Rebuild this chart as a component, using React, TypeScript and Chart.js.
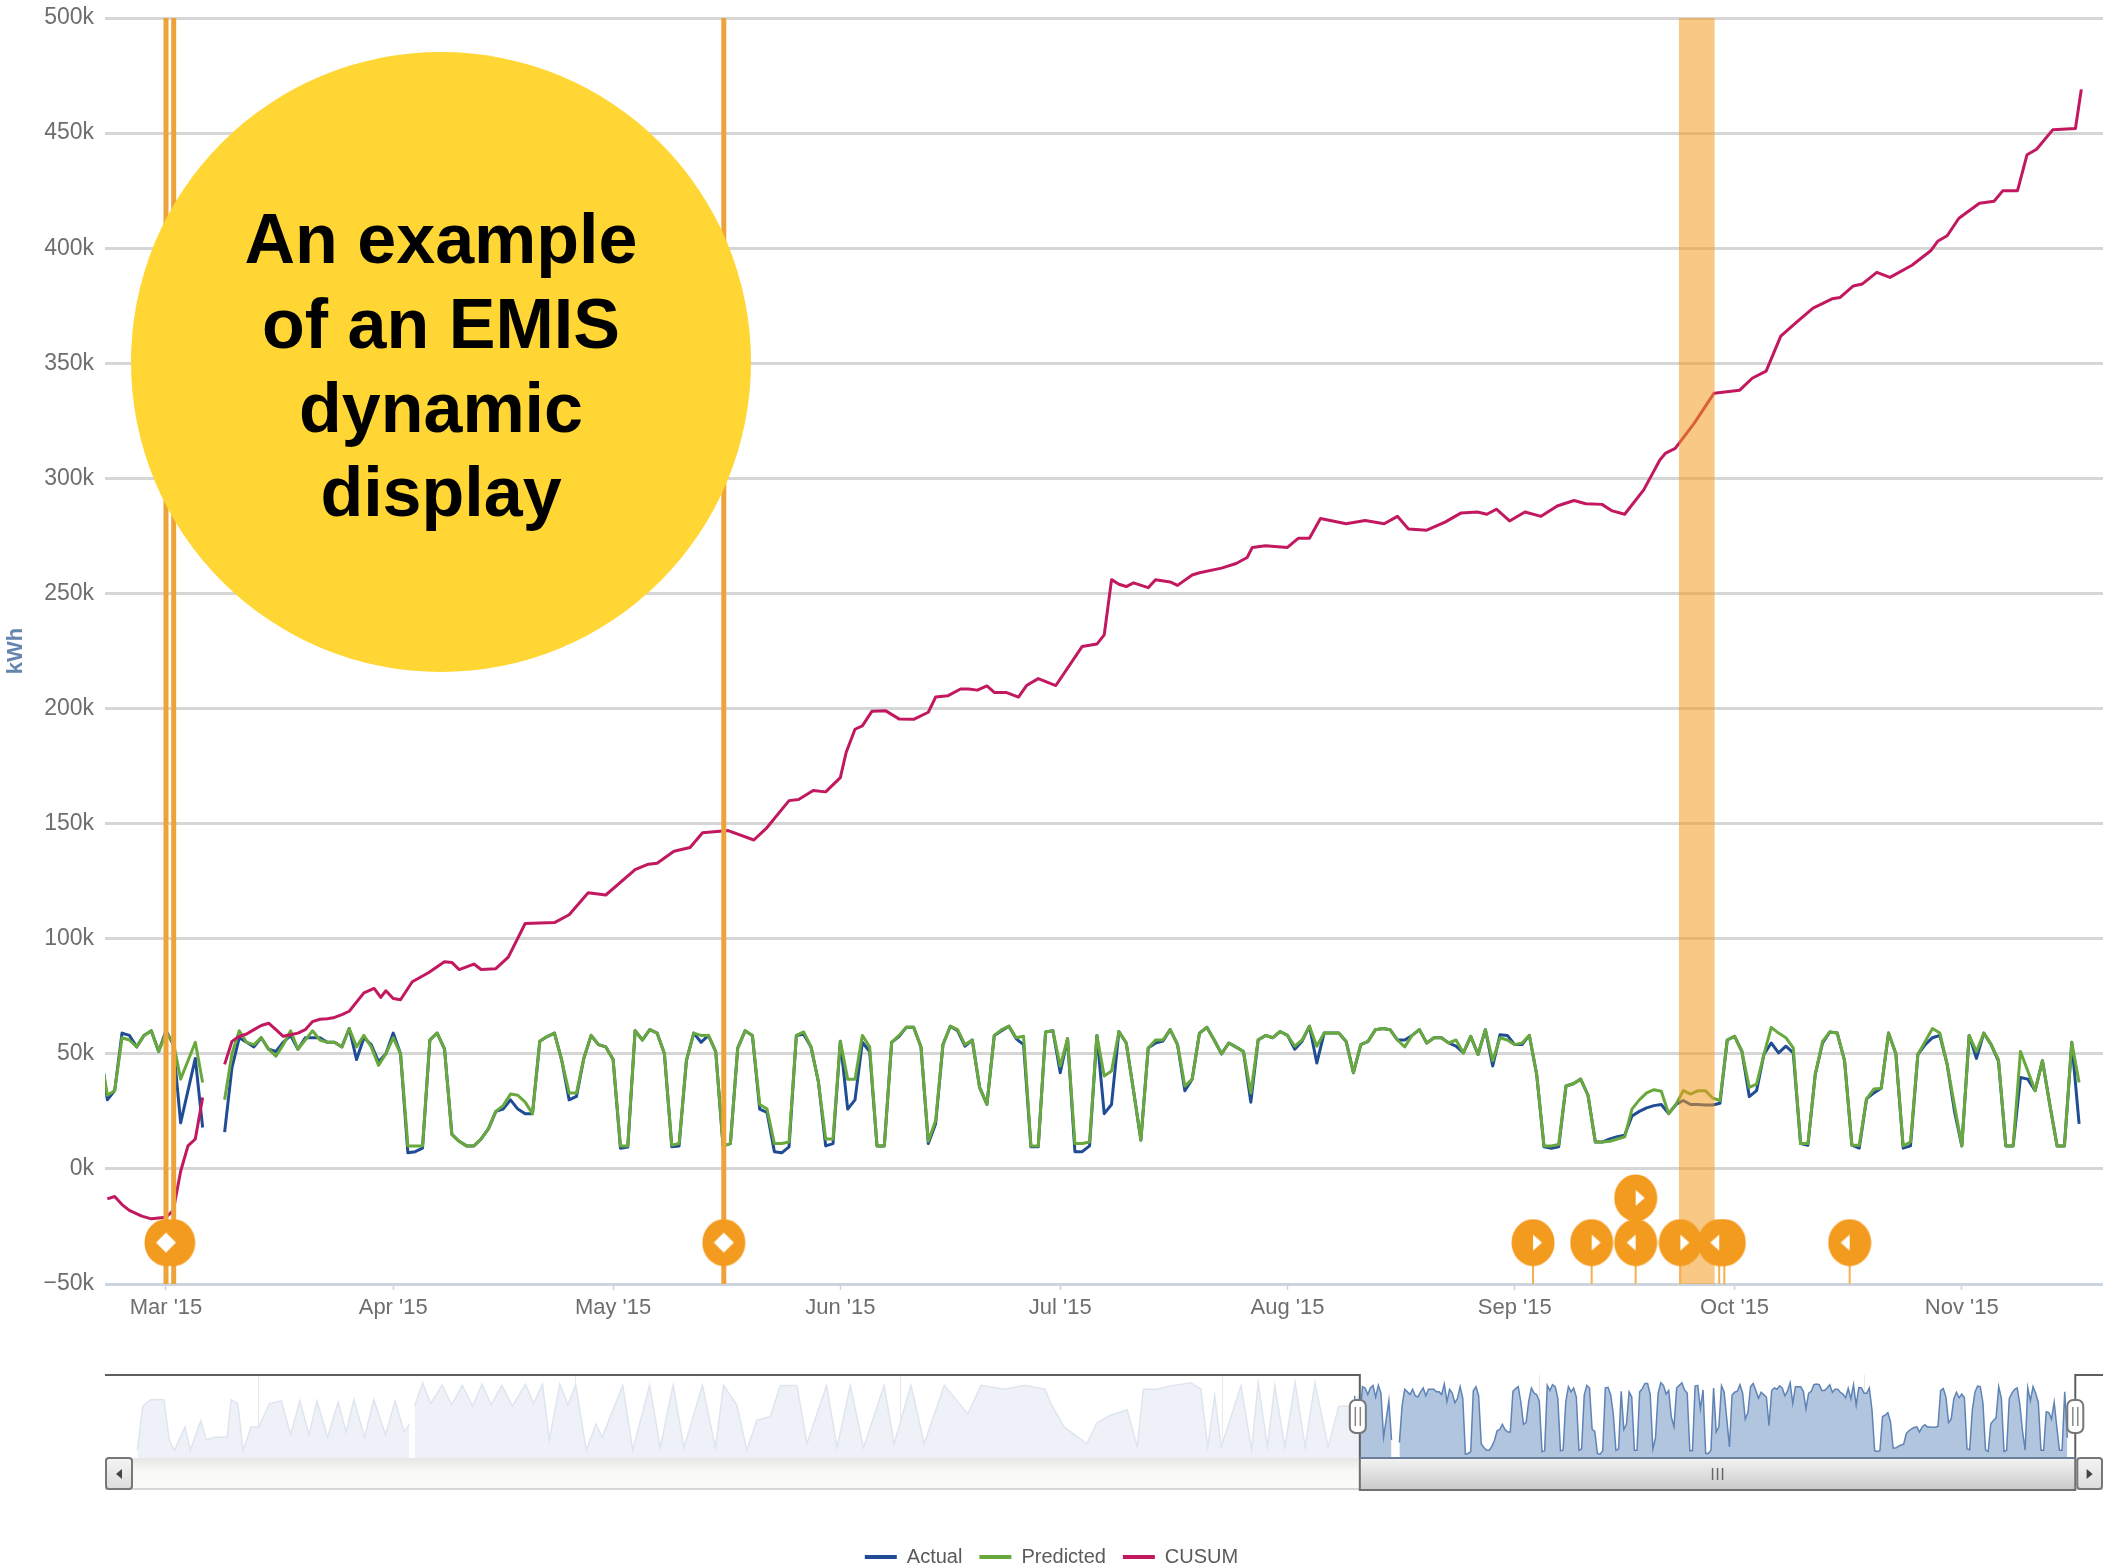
import React, { useEffect, useRef } from "react";
import { Chart, registerables } from "chart.js";

Chart.register(...registerables);

const FONT = "'Liberation Sans', Arial, sans-serif";

// ---- main chart: day numbers count from 1 March 2015, values are in thousands of kWh
const firstDay = -9;
const predictedValues: (number | null)[] = [
  52, 32, 34, 57, 56, 53, 58, 60, 51, 59,
  55, 39, 47, 55, 37.5, null, null, 30, 50, 60,
  55, 54, 57, 52, 49, 54, 60, 52, 56, 60,
  56, 55, 55, 53, 61, 53, 58, 53, 45, 50,
  57, 50, 10, 10, 10, 56, 59, 52, 15, 12,
  10, 10, 13, 17.5, 25, 27.5, 32.5, 32, 29, 24,
  55.5, 57.5, 59, 47, 33, 33, 48, 58, 54, 53,
  47.5, 10, 10, 60, 56, 60.5, 59, 50, 10.3, 11,
  47, 59, 58, 58, 51, 10, 11, 52.5, 60, 58,
  28, 26, 11, 11, 11.7, 58, 59.5, 53, 38, 13,
  13, 55.5, 39, 39, 58, 53, 10, 10, 55, 58,
  61.5, 61.5, 53, 12, 21, 54, 62, 60.5, 54, 56,
  35.4, 28, 58, 60.5, 62, 57, 57.6, 10, 10, 59.5,
  60, 44.7, 56.6, 11, 11, 11.7, 58, 40.4, 42.5, 59.7,
  54.7, 34, 12.5, 52.5, 56, 56, 60.5, 54, 36, 39,
  59, 61.5, 56, 50, 54.7, 52.9, 51, 33, 56, 58,
  57, 59.7, 58, 53.3, 56, 62, 53.3, 59, 59, 59,
  55.4, 41.8, 54, 55.4, 60.5, 61, 60.5, 56, 53, 58,
  60.5, 54.7, 57, 57, 54.7, 56, 50.4, 57.6, 49.7, 60.5,
  47, 57, 56, 54, 54.7, 58, 41, 10, 10, 10.6,
  36, 37, 39, 32, 11.7, 11.7, 12, 13, 13.9, 26,
  30, 33, 34.4, 33.7, 24, 28, 34, 32.5, 34, 34,
  30.8, 29.7, 56, 57.6, 51, 35.4, 36.8, 49.7, 61.5, 59,
  57, 52.6, 11, 11, 41, 55.4, 59.5, 59, 47, 10.3,
  10.3, 30.4, 34.7, 35, 59, 50, 10, 11.7, 49.7, 55.4,
  61, 59, 45.4, 27.5, 10, 58, 51, 59, 54, 47.5,
  10, 10, 51, 42.5, 34, 47, 28, 10, 10, 55, 37.5,
];
const actualValues: (number | null)[] = [
  52, 30, 34, 59, 58, 53, 58, 60, 51, 60,
  54, 20, 34, 48, 18, null, null, 16, 44, 57,
  55, 53, 57, 52, 51, 55, 58, 52, 57, 57,
  57, 55, 55, 53, 61, 47.5, 57, 54, 46.5, 50,
  59, 50, 7, 7.5, 9, 56, 59, 52, 15, 12,
  10, 10, 13, 17.5, 25, 26, 30, 26, 24, 24,
  55.5, 57.5, 59, 47, 30, 31.5, 48, 58, 54, 53,
  47.5, 9, 9.5, 60, 56, 60.5, 59, 50, 9.6, 10,
  47, 59, 55, 58, 51, 10, 11, 52.5, 60, 58,
  26, 24.5, 7.5, 7, 9.6, 58, 58.5, 53, 38, 10,
  11, 55.5, 26, 30, 55, 51, 10, 10, 55, 57.5,
  61.5, 61.5, 53, 11, 19.6, 54, 62, 60, 53.3, 56,
  35.4, 28, 58, 60, 62, 56.5, 54, 9.6, 9.6, 59.5,
  60, 41.8, 56.6, 7.5, 7.5, 10, 58, 24, 28, 59.7,
  54.7, 34, 12.5, 52.5, 54.7, 55.5, 60.5, 54, 34, 39,
  59, 61.5, 56, 50, 54.7, 52.9, 51, 29, 56, 58,
  57, 59.7, 58, 52, 55.5, 62, 46, 59, 59, 59,
  55.4, 41.8, 54, 55.4, 60.5, 61, 60.5, 56, 56, 58,
  60.5, 54.7, 57, 57, 54.7, 53.3, 50.4, 57.6, 49.7, 60.5,
  44.7, 58.3, 58, 54, 54, 58, 41, 9.6, 9, 9.6,
  36, 37, 39, 32, 11.7, 11.7, 13, 14, 14.6, 23,
  25, 26.5, 27.5, 28, 24, 28, 29.7, 28, 28, 27.8,
  27.8, 28.5, 56, 57.6, 51, 31.4, 34, 49.7, 54.7, 50.4,
  53.3, 50.4, 11, 10.3, 41, 54.7, 59.5, 59, 47, 10.3,
  9, 30.4, 33, 35, 59, 50, 9, 10, 49.7, 54,
  57, 58, 45.4, 25, 10, 58, 48, 59, 54, 46.8,
  10, 10, 39.7, 39, 34, 47, 28, 10, 10, 55, 19.6,
];
const cusumDays = [
  -8, -7, -6, -5, -3.3, -2, 0, 1, 2, 3, 4, 5, 6.5, 8, 9, 10, 11, 12, 13, 14, 15, 16, 17, 18, 19, 20, 21, 22, 23, 24, 25,
  27, 28.4, 29.3, 30, 31, 32, 33.6, 35.8, 38, 39, 40, 42, 43, 45, 46.7, 49, 53, 55, 57.6, 60, 64, 65.8, 67, 69.3, 71.5,
  73.2, 76.7, 80.2, 82, 85, 86.3, 88.3, 90, 92, 92.8, 94, 95, 96.3, 98.2, 100, 102, 104, 105, 106.7, 108.4, 109.5,
  110.7, 112, 113, 114.6, 116.3, 117.4, 119, 121.4, 125, 127, 128, 129, 130, 131, 132, 134, 135, 137, 138, 140, 141,
  144, 146, 147.5, 148.2, 150, 153, 154.5, 156, 157.5, 161, 163.6, 166.2, 168, 169.5, 172, 174.5, 176.7, 178.9, 180.2,
  181.5, 183.3, 185.4, 187.6, 189.8, 192.1, 193.7, 195.9, 197.2, 199, 201.6, 203.8, 204.6, 205.9, 208.5, 211.2, 214.7,
  216.4, 218.3, 220.3, 222.5, 224.7, 227.3, 228.4, 230.2, 231.4, 233.4, 235.2, 238.2, 240.8, 241.7, 243, 244.6, 247.4,
  249.4, 250.6, 252.6, 253.9, 255.2, 257.4, 260.5, 261.3,
];
const cusumValues: (number | null)[] = [
  -13, -12, -15.5, -18, -20.5, -21.7, -21, -18, -1, 10, 13, 31, null, 45.4, 55.4, 57.6, 58.6, 60.5, 62.3, 63.3, 60.5, 57.6, 58.3, 59, 60.5, 64, 65, 65.2, 65.8, 67, 68.5,
  76.5, 78.4, 74.5, 77.4, 74, 73.5, 81.3, 85.2, 90, 89.7, 86.6, 89, 86.6, 87, 92, 106.6, 107, 110.4, 120, 119, 130, 132.4, 132.8, 138, 139.6,
  146, 147, 142.9, 148.3, 160, 160.5, 164.4, 163.8, 170, 181, 191, 192.5, 198.8, 199, 195.5, 195.3, 198.4, 205, 205.6, 208.5, 208.5,
  208, 209.8, 207, 207, 205, 210, 213, 210, 227, 228, 232, 256, 254, 253, 254.6, 252.5, 256, 255, 253.5, 258, 259,
  261, 263, 265.6, 270, 270.7, 270, 274, 274, 282.6, 280.3, 281.7, 280.3, 283.5, 278, 277.5, 281, 285, 285.4, 284.4,
  286.6, 281.5, 285.4, 283.5, 288, 290.4, 289, 288.7, 286, 284.4, 295, 308, 311, 313, 324, 337, 338.3,
  343.5, 346.6, 361.8, 368, 374, 378, 378.6, 383.6, 384.4, 389.5, 387.3, 392.6, 399, 403, 405.4, 413, 419.5,
  420.4, 425, 425, 440.6, 443, 451.4, 452, 469,
];
const monthTickDays = [0, 31, 61, 92, 122, 153, 184, 214, 245];
const monthTickLabels = ["Mar '15", "Apr '15", "May '15", "Jun '15", "Jul '15", "Aug '15", "Sep '15", "Oct '15", "Nov '15"];
const eventLineDays = [0, 1.05, 76.1];
const eventBandDays = [206.4, 211.3];
const flagsDiamondDays = [1.05, 0, 76.1];
const flagsRightDays = [186.5, 194.5, 206.6];
const flagsRightHighDays = [200.5];
const flagsLeftDays = [212.6, 229.7, 200.5, 211.9];
const flagLowLevel = -32;
const flagHighLevel = -12.6;

// ---- overview strip: day numbers count from 1 January 2014
const overviewOffset = 424;
const historyDays = [
  -46, -44, -41, -36, -34, -32, -28, -26, -22, -20, -17, -12, -10.5, -8, -6, -3, 0, 4, 8.5, 12, 15.5, 19, 22, 26, 30, 33, 36, 40, 43.5, 48, 51.6, 55, 57,
  58, 59, 62, 65, 69.4, 73, 77, 81, 84.5, 88, 92, 96, 101, 104, 107.4, 110, 114, 117, 120, 124, 127.7, 130, 137.8, 141.6, 148, 152, 156.9, 161, 168, 172.9, 176,
  181, 184.8, 188.6, 193.7, 197.5, 203.8, 207.6, 215, 219, 224, 229, 236.8, 240.6, 247, 252, 259.6, 268.5, 273.6, 282.5, 290, 297.7, 300, 305, 313.6, 317.4, 322.5,
  328.9, 332.7, 335, 340, 345.4, 353, 356.8, 359.4, 362, 364.5, 372, 376, 378.5, 382, 384.8, 388.6, 392.5, 396.3, 400, 405, 409, 413, 417,
];
const historyValues: (number | null)[] = [
  10, 44, 49, 49, 18, 10, 28, 10, 33, 18, 20, 20, 49, 46, 10, 28, 28, 46, 48, 22, 48, 22, 48, 20, 47, 24, 49, 20, 49, 22, 48, 24, 30,
  null, 44, 62, 46, 60, 45, 60, 44, 61, 45, 60, 44, 61, 46, 61, 18, 61, 45, 60, 10, 30, 20, 60, 10, 60, 12, 60, 12, 60, 12, 60,
  45, 10, 33, 36, 60, 60, 15, 60, 12, 60, 12, 60, 15, 60, 15, 60, 38, 60, 57, 60, 57, 46, 28, 15, 31, 37,
  41, 12.5, 57, 57, 59.5, 62, 57, 12.5, 52, 12.5, 59.5, 10, 62, 12.5, 59.5, 12.5, 62, 12.5, 62, 12.5, 44, 44, 52,
];
const overviewTickDays = [0, 120, 243, 365, 485, 608];
const overviewTickLabels = ["Jan '14", "May '14", "Sep '14", "Jan '15", "May '15", "Sep '15"];
const selectedRange = [417, 688];

const ORANGE = "#f39b1f";

function daily(values: (number | null)[]) {
  return values.map((y, i) => ({ x: firstDay + i, y }));
}
function paired(days: number[], values: (number | null)[]) {
  return days.map((x, i) => ({ x, y: values[i] }));
}
function flagPoints(days: number[], level: number) {
  return days.map((x) => ({ x, y: level }));
}
function verticals(days: number[], tops: number[]) {
  const out: { x: number; y: number | null }[] = [];
  days.forEach((x, i) => {
    out.push({ x, y: -50 }, { x, y: tops[i] }, { x, y: null });
  });
  return out;
}

function makeFlag(kind: "right" | "left" | "diamond") {
  const c = document.createElement("canvas");
  c.width = 44;
  c.height = 48;
  const g = c.getContext("2d")!;
  g.fillStyle = ORANGE;
  g.beginPath();
  g.ellipse(22, 24, 21.5, 23.5, 0, 0, Math.PI * 2);
  g.fill();
  g.fillStyle = "#ffffff";
  g.beginPath();
  if (kind === "right") {
    g.moveTo(22, 16);
    g.lineTo(31, 24);
    g.lineTo(22, 32);
  } else if (kind === "left") {
    g.moveTo(22, 16);
    g.lineTo(13, 24);
    g.lineTo(22, 32);
  } else {
    g.moveTo(22, 14);
    g.lineTo(32, 24);
    g.lineTo(22, 34);
    g.lineTo(12, 24);
  }
  g.closePath();
  g.fill();
  return c;
}

function flagDataset(label: string, data: { x: number; y: number }[], style: HTMLCanvasElement) {
  return {
    label,
    data,
    showLine: false,
    order: 0,
    pointStyle: style,
    pointRadius: 21,
    borderWidth: 0,
  };
}

const overviewChrome = {
  id: "overviewChrome",
  afterDatasetsDraw(chart: any) {
    const g = chart.ctx as CanvasRenderingContext2D;
    const { left, right, top, bottom } = chart.chartArea;
    const x = chart.scales.x;
    const from = x.getPixelForValue(selectedRange[0]);
    const to = x.getPixelForValue(selectedRange[1]);
    const barH = 32;
    g.save();
    const track = g.createLinearGradient(0, bottom, 0, bottom + barH);
    track.addColorStop(0, "#e6e6e6");
    track.addColorStop(0.4, "#f8f8f6");
    track.addColorStop(1, "#fbfbf9");
    g.fillStyle = track;
    g.fillRect(left, bottom, right - left, barH);
    g.fillStyle = "#d8d8d8";
    g.fillRect(left, bottom + barH - 2, right - left, 2);

    const thumb = g.createLinearGradient(0, bottom, 0, bottom + barH);
    thumb.addColorStop(0, "#f4f4f4");
    thumb.addColorStop(1, "#c9c9c9");
    g.fillStyle = thumb;
    g.fillRect(from, bottom, to - from, barH);
    g.strokeStyle = "#707070";
    g.lineWidth = 2;
    g.beginPath();
    g.moveTo(from, bottom);
    g.lineTo(from, bottom + barH);
    g.lineTo(to, bottom + barH);
    g.lineTo(to, bottom);
    g.stroke();
    g.strokeStyle = "#666666";
    g.lineWidth = 1.5;
    [-5, 0, 5].forEach((d) => {
      const gx = (from + to) / 2 + d;
      g.beginPath();
      g.moveTo(gx, bottom + 10);
      g.lineTo(gx, bottom + 22);
      g.stroke();
    });

    const button = (bx: number, bw: number, dir: number) => {
      const b = g.createLinearGradient(0, bottom, 0, bottom + barH);
      b.addColorStop(0, "#f4f4f4");
      b.addColorStop(1, "#dcdcdc");
      g.fillStyle = b;
      g.strokeStyle = "#777777";
      g.lineWidth = 2;
      g.beginPath();
      g.roundRect(bx, bottom, bw, barH - 1, 3);
      g.fill();
      g.stroke();
      const cx = bx + bw / 2;
      const cy = bottom + barH / 2;
      g.fillStyle = "#444444";
      g.beginPath();
      g.moveTo(cx - 3 * dir, cy - 5);
      g.lineTo(cx + 3 * dir, cy);
      g.lineTo(cx - 3 * dir, cy + 5);
      g.closePath();
      g.fill();
    };
    button(left + 1, 26, -1);
    button(to + 2, right - to - 3, 1);

    g.strokeStyle = "#5f5f5f";
    g.lineWidth = 2;
    g.beginPath();
    g.moveTo(left, top);
    g.lineTo(from, top);
    g.lineTo(from, bottom);
    g.strokeStyle = "#5f5f5f";
    g.stroke();
    g.beginPath();
    g.moveTo(to, bottom);
    g.lineTo(to, top);
    g.lineTo(right, top);
    g.stroke();
    g.strokeStyle = "#6a7f9c";
    g.beginPath();
    g.moveTo(from, bottom);
    g.lineTo(to, bottom);
    g.stroke();

    const handle = (hx: number) => {
      g.fillStyle = "#ffffff";
      g.strokeStyle = "#777777";
      g.lineWidth = 2;
      g.beginPath();
      g.roundRect(hx - 8, top + 25, 16, 33, 6);
      g.fill();
      g.stroke();
      g.strokeStyle = "#888888";
      g.lineWidth = 1.5;
      [-2.5, 2.5].forEach((d) => {
        g.beginPath();
        g.moveTo(hx + d, top + 32);
        g.lineTo(hx + d, top + 51);
        g.stroke();
      });
    };
    handle(from - 2);
    handle(to);
    g.restore();
  },
};

export default function App() {
  const mainRef = useRef<HTMLCanvasElement>(null);
  const overviewRef = useRef<HTMLCanvasElement>(null);

  useEffect(() => {
    const legendNames = ["Actual", "Predicted", "CUSUM"];
    const flagRight = makeFlag("right");
    const flagLeft = makeFlag("left");
    const flagDiamond = makeFlag("diamond");
    const stemDays = [...flagsRightDays, ...flagsLeftDays];
    const stemTops = stemDays.map(() => flagLowLevel);

    const main = new Chart(mainRef.current!, {
      type: "line",
      data: {
        datasets: [
          {
            label: "Actual",
            data: daily(actualValues),
            borderColor: "#1f4c94",
            backgroundColor: "#1f4c94",
            borderWidth: 3,
            pointRadius: 0,
            order: 6,
          },
          {
            label: "Predicted",
            data: daily(predictedValues),
            borderColor: "#68a83c",
            backgroundColor: "#68a83c",
            borderWidth: 3,
            pointRadius: 0,
            order: 5,
          },
          {
            label: "CUSUM",
            data: paired(cusumDays, cusumValues),
            borderColor: "#c2185f",
            backgroundColor: "#c2185f",
            borderWidth: 3,
            pointRadius: 0,
            order: 4,
          },
          {
            label: "Event band",
            data: eventBandDays.map((x) => ({ x, y: 500 })),
            borderWidth: 0,
            pointRadius: 0,
            fill: { value: -50 },
            backgroundColor: "rgba(243,155,31,0.55)",
            order: 3,
          },
          {
            label: "Event lines",
            data: verticals(eventLineDays, eventLineDays.map(() => 500)),
            borderColor: "#eea33a",
            borderWidth: 5,
            pointRadius: 0,
            order: 2,
          },
          {
            label: "Flag stems",
            data: verticals(stemDays, stemTops),
            borderColor: "#f5b04f",
            borderWidth: 2,
            pointRadius: 0,
            order: 1,
          },
          flagDataset("Flags diamond", flagPoints(flagsDiamondDays, flagLowLevel), flagDiamond),
          flagDataset("Flags right", flagPoints(flagsRightDays, flagLowLevel), flagRight),
          flagDataset("Flags right high", flagPoints(flagsRightHighDays, flagHighLevel), flagRight),
          flagDataset("Flags left", flagPoints(flagsLeftDays, flagLowLevel), flagLeft),
        ] as any,
      },
      options: {
        responsive: false,
        animation: false,
        devicePixelRatio: 1,
        layout: { autoPadding: false, padding: { top: 18, left: 0, right: 0, bottom: -11 } },
        elements: { line: { tension: 0, borderJoinStyle: "round" } },
        plugins: {
          tooltip: { enabled: false },
          legend: {
            display: true,
            position: "bottom",
            labels: {
              boxWidth: 32,
              boxHeight: 4,
              padding: 17,
              color: "#5a5a5a",
              font: { family: FONT, size: 20 },
              generateLabels(chart: any) {
                return Chart.defaults.plugins.legend.labels
                  .generateLabels(chart)
                  .filter((i: any) => legendNames.includes(i.text))
                  .sort((a: any, b: any) => legendNames.indexOf(a.text) - legendNames.indexOf(b.text))
                  .map((i: any) => ({ ...i, lineWidth: 0, fillStyle: i.strokeStyle }));
              },
            },
          },
        },
        scales: {
          x: {
            type: "linear",
            min: -8.32,
            max: 264.26,
            afterBuildTicks(s: any) {
              s.ticks = monthTickDays.map((value) => ({ value }));
            },
            afterFit(s: any) {
              s.height = 246;
              s.paddingRight = 0;
              s.paddingLeft = 0;
            },
            grid: { drawOnChartArea: false, drawTicks: true, tickLength: 6, tickColor: "#c8d4e2", tickWidth: 1.5 },
            border: { display: false },
            ticks: {
              autoSkip: false,
              maxRotation: 0,
              padding: 5,
              color: "#6e6e6e",
              font: { family: FONT, size: 22 },
              callback(v: any) {
                return monthTickLabels[monthTickDays.indexOf(v)] ?? "";
              },
            },
          },
          y: {
            min: -50,
            max: 500,
            afterFit(s: any) {
              s.width = 105;
              s.paddingTop = 0;
              s.paddingBottom = 0;
            },
            title: {
              display: true,
              text: "kWh",
              color: "#6585ad",
              font: { family: FONT, size: 22, weight: "bold" },
              padding: { top: 3, bottom: 0 },
            },
            grid: {
              drawTicks: false,
              lineWidth: 3,
              color: (c: any) => (c.tick.value === -50 ? "#ccd4de" : "#d6d6d6"),
            },
            border: { display: false },
            ticks: {
              stepSize: 50,
              padding: 11,
              color: "#6e6e6e",
              font: { family: FONT, size: 23 },
              callback(v: any) {
                return v < 0 ? `\u2212${-v}k` : `${v}k`;
              },
            },
          },
        },
      } as any,
    });

    const overview = new Chart(overviewRef.current!, {
      type: "line",
      data: {
        datasets: [
          {
            label: "History",
            data: paired(historyDays, historyValues),
            borderColor: "#dfe5ee",
            borderWidth: 1.5,
            backgroundColor: "#eef2f8",
            fill: { value: 4 },
            pointRadius: 0,
          },
          {
            label: "Selected",
            data: actualValues.map((y, i) => ({ x: overviewOffset + firstDay + i, y })),
            borderColor: "#5f83b5",
            borderWidth: 1.5,
            backgroundColor: "#b1c5df",
            fill: { value: 4 },
            pointRadius: 0,
          },
        ] as any,
      },
      plugins: [overviewChrome],
      options: {
        responsive: false,
        animation: false,
        devicePixelRatio: 1,
        layout: { padding: { top: 35, left: 105, right: 0, bottom: 0 } },
        elements: { line: { tension: 0 } },
        plugins: { legend: { display: false }, tooltip: { enabled: false } },
        scales: {
          x: {
            type: "linear",
            min: -58.3,
            max: 698.5,
            afterBuildTicks(s: any) {
              s.ticks = overviewTickDays.map((value) => ({ value }));
            },
            afterFit(s: any) {
              s.height = 52;
            },
            grid: { drawTicks: false, color: "#e9e9e9", lineWidth: 1 },
            border: { display: false },
            ticks: {
              autoSkip: false,
              maxRotation: 0,
              align: "start",
              labelOffset: 6,
              padding: -24,
              z: 1,
              color: "#666666",
              font: { family: FONT, size: 22 },
              callback(v: any) {
                return overviewTickLabels[overviewTickDays.indexOf(v)] ?? "";
              },
            },
          },
          y: { display: false, min: 4, max: 68 },
        },
      } as any,
    });

    return () => {
      main.destroy();
      overview.destroy();
    };
  }, []);

  return (
    <div style={{ position: "absolute", left: 0, top: 0, width: 2103, height: 1566, background: "#fff", overflow: "hidden" }}>
      <canvas ref={mainRef} width={2103} height={1566} style={{ position: "absolute", left: 0, top: 0, display: "block" }} />
      <canvas ref={overviewRef} width={2103} height={170} style={{ position: "absolute", left: 0, top: 1340, display: "block" }} />
      <div
        style={{
          position: "absolute",
          left: 131,
          top: 52,
          width: 620,
          height: 620,
          boxSizing: "border-box",
          paddingTop: 8,
          borderRadius: "50%",
          background: "#ffd633",
          display: "flex",
          alignItems: "center",
          justifyContent: "center",
          textAlign: "center",
          color: "#000",
          fontFamily: FONT,
          fontWeight: 700,
          fontSize: 70,
          lineHeight: "84.4px",
        }}
      >
        <div>
          An example
          <br />
          of an EMIS
          <br />
          dynamic
          <br />
          display
        </div>
      </div>
    </div>
  );
}
